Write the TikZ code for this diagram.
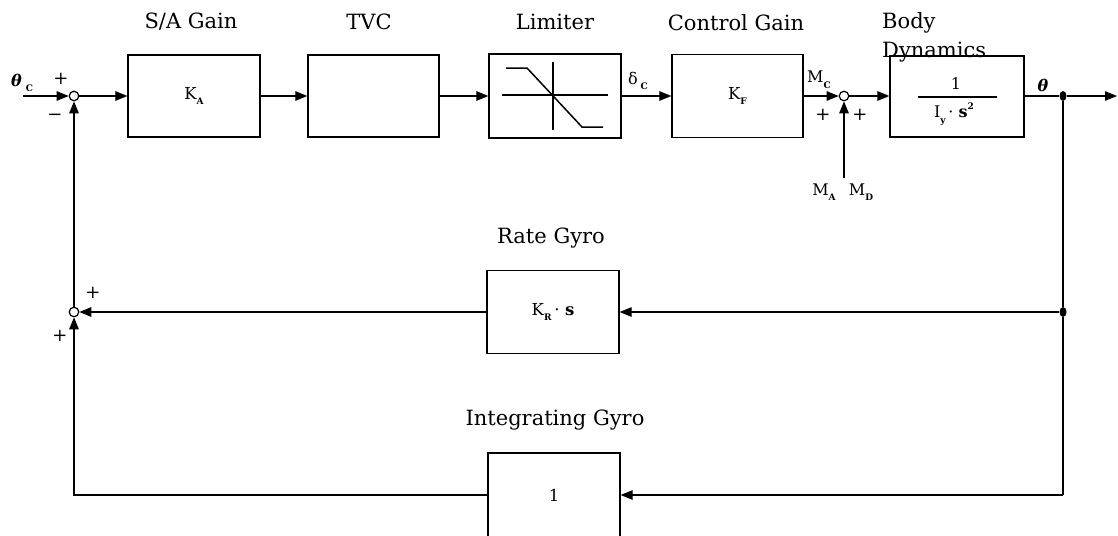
\documentclass[tikz,border=0pt]{standalone}
\usepackage{fontspec}
\setmainfont{DejaVu Serif}
\usetikzlibrary{arrows.meta,calc,shapes.geometric}
\newcommand{\sbs}[1]{\raisebox{-0.35em}{\fontsize{9}{9}\selectfont\bfseries #1}}
\newcommand{\sps}[1]{\raisebox{0.55em}{\fontsize{9}{9}\selectfont\bfseries #1}}
\begin{document}
\begin{tikzpicture}[x=1pt,y=-1pt,
  blk/.style={draw, line width=1.3pt, minimum width=132pt, minimum height=82pt, inner sep=0pt, font=\fontsize{16.5}{16.5}\selectfont},
  ttl/.style={font=\fontsize{21}{21}\selectfont, inner sep=0pt},
  lbl/.style={font=\fontsize{16}{16}\selectfont, inner sep=0pt},
  sgn/.style={font=\fontsize{18}{18}\selectfont, inner sep=0pt},
  sumc/.style={circle, draw, fill=white, line width=1.2pt, minimum size=9.5pt, inner sep=0pt},
  dotn/.style={ellipse, fill=black, minimum width=7pt, minimum height=10pt, inner sep=0pt},
  wire/.style={line width=1.2pt},
  arr/.style={wire, -{Triangle[length=12pt,width=9.5pt]}},
]
\useasboundingbox (0,0) rectangle (1118,535);
\clip (0,0) rectangle (1118,535);

% forward path
\coordinate (in) at (23,96);
\node[sumc] (s1) at (74,96) {};
\node[blk] (ka) at (194,96) {\raisebox{2pt}{K\sbs{A}}};
\node[blk, minimum width=131pt] (tvc) at (373.5,96) {};
\node[blk, minimum height=84pt] (lim) at (555,96) {};
\node[blk, minimum width=131pt, minimum height=83pt] (kf) at (737.5,96) {\raisebox{2pt}{K\sbs{F}}};
\node[sumc] (s2) at (844,96) {};
\coordinate (md) at (844,178);
\node[blk, minimum width=134pt, minimum height=81pt] (bd) at (957,96.5) {};
\node[dotn] (d1) at (1063,96) {};
\coordinate (out) at (1117,96);

% feedback
\node[dotn] (d2) at (1063,312) {};
\coordinate (cr) at (1063,495);
\node[blk, minimum height=83pt] (kr) at (553,312) {K\sbs{R}\,·\,\,\textbf{s}};
\node[blk, minimum height=84pt] (ig) at (554,495) {1};
\node[sumc] (s3) at (74,312) {};

% limiter characteristic
\draw[wire] (502,95) -- (608,95);
\draw[wire] (553,62) -- (553,130);
\draw[line width=1.5pt] (506,68) -- (527,68) -- (582,127) -- (603,127);

% body dynamics fraction
\node[lbl] (num) at (956,84) {1};
\draw[wire] (918,97) -- (997,97);
\node[lbl] (den) at (954,114) {I\sbs{y}\,·\,\,\textbf{s}\sps{2}};

% titles
\node[ttl] (t1) at (191,22) {S/A Gain};
\node[ttl] (t2) at (369,22) {TVC};
\node[ttl] (t3) at (555,22) {Limiter};
\node[ttl] (t4) at (736,23) {Control Gain};
\node[ttl, anchor=west] (t5) at (882,23) {Body};
\node[ttl, anchor=base west] (t6) at (882,58) {Dynamics};
\node[ttl] (t7) at (551,238) {Rate Gyro};
\node[ttl] (t8) at (555,420) {Integrating Gyro};

% signal labels
\node[lbl] (lthc) at (22,83) {{\bfseries\itshape θ}\hspace{4pt}\sbs{C}};
\node[lbl] (ldc) at (638,81) {δ\hspace{3pt}\sbs{C}};
\node[lbl] (lmc) at (819,80) {M\sbs{C}};
\node[lbl] (lth) at (1043,85) {\bfseries\itshape θ};
\node[lbl] (lma) at (824,192) {M\sbs{A}};
\node[lbl] (lmd) at (861,192) {M\sbs{D}};

% signs
\node[sgn] at (61,79) {+};
\node[sgn] at (55,117) {−};
\node[sgn] at (823,115) {+};
\node[sgn] at (860,115) {+};
\node[sgn] at (93,293) {+};
\node[sgn] at (60,336) {+};

% connectors
\draw[arr] (in) -- (s1);
\draw[arr] (s1) -- (ka);
\draw[arr] (ka) -- (tvc);
\draw[arr] (tvc) -- (lim);
\draw[arr] (lim) -- (kf);
\draw[arr] (kf) -- (s2);
\draw[arr] (md) -- (s2);
\draw[arr] (s2) -- (s2 -| bd.west);
\draw[wire] (bd.east |- d1) -- (d1);
\draw[arr] (d1) -- (out);
\draw[wire] (d1) -- (d2) -- (cr);
\draw[arr] (cr) -- (ig);
\draw[arr] (d2) -- (kr);
\draw[arr] (kr) -- (s3);
\draw[arr] (ig.west) -- (ig.west -| s3) -- (s3);
\draw[arr] (s3) -- (s1);
\end{tikzpicture}
\end{document}
